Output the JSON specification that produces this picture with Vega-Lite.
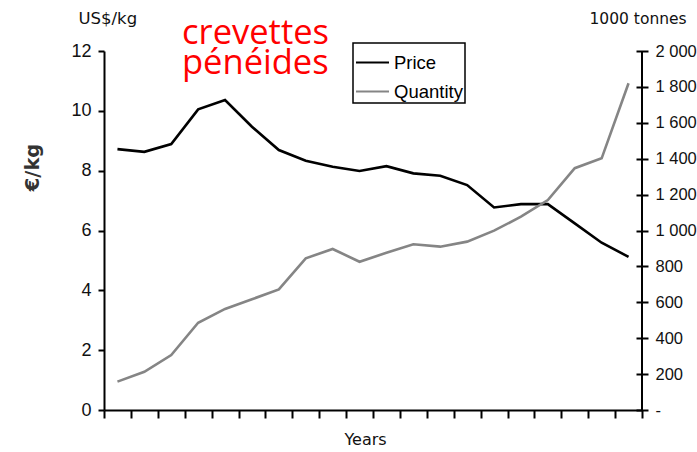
{
  "$schema": "https://vega.github.io/schema/vega-lite/v6.json",
  "width": 538,
  "height": 359,
  "autosize": "none",
  "padding": {"left": 104, "top": 51, "right": 55, "bottom": 42},
  "background": "white",
  "title": {
    "text": ["crevettes", "pénéides"],
    "anchor": "start",
    "frame": "group",
    "dx": 78,
    "dy": 75,
    "offset": 4,
    "color": "#ff0000",
    "font": "Open Sans",
    "fontSize": 34.5,
    "fontWeight": "normal",
    "lineHeight": 30
  },
  "data": {
    "values": [
      {"year": 1, "price": 8.72, "quantity": 158},
      {"year": 2, "price": 8.63, "quantity": 213},
      {"year": 3, "price": 8.89, "quantity": 306},
      {"year": 4, "price": 10.05, "quantity": 486},
      {"year": 5, "price": 10.36, "quantity": 563},
      {"year": 6, "price": 9.47, "quantity": 617},
      {"year": 7, "price": 8.69, "quantity": 672},
      {"year": 8, "price": 8.33, "quantity": 845},
      {"year": 9, "price": 8.13, "quantity": 897},
      {"year": 10, "price": 7.99, "quantity": 826},
      {"year": 11, "price": 8.15, "quantity": 876},
      {"year": 12, "price": 7.91, "quantity": 923},
      {"year": 13, "price": 7.83, "quantity": 910},
      {"year": 14, "price": 7.52, "quantity": 938},
      {"year": 15, "price": 6.77, "quantity": 999},
      {"year": 16, "price": 6.88, "quantity": 1077},
      {"year": 17, "price": 6.88, "quantity": 1170},
      {"year": 18, "price": 6.24, "quantity": 1347},
      {"year": 19, "price": 5.59, "quantity": 1402},
      {"year": 20, "price": 5.12, "quantity": 1820}
    ]
  },
  "config": {
    "view": {"stroke": null},
    "axis": {
      "grid": false,
      "domainColor": "black",
      "domainWidth": 2,
      "tickColor": "black",
      "tickWidth": 2,
      "labelFont": "Liberation Sans",
      "labelFontSize": 18,
      "labelColor": "#111",
      "titleColor": "#111"
    },
    "legend": {
      "strokeColor": "black",
      "strokeWidth": 1.5
    }
  },
  "encoding": {
    "x": {
      "field": "year",
      "type": "quantitative",
      "scale": {"domain": [0.5, 20.5], "nice": false, "zero": false},
      "axis": {
        "values": [0.5, 1.5, 2.5, 3.5, 4.5, 5.5, 6.5, 7.5, 8.5, 9.5, 10.5, 11.5, 12.5, 13.5, 14.5, 15.5, 16.5, 17.5, 18.5, 19.5, 20.5],
        "labels": false,
        "tickSize": 8,
        "title": "Years",
        "titleX": 261,
        "titleAlign": "center",
        "titleFont": "DejaVu Sans",
        "titleFontSize": 16,
        "titleFontWeight": "normal",
        "titlePadding": 12
      }
    }
  },
  "layer": [
    {
      "mark": {"type": "line", "strokeWidth": 2.6, "interpolate": "linear"},
      "encoding": {
        "y": {
          "field": "price",
          "type": "quantitative",
          "scale": {"domain": [0, 12], "nice": false},
          "axis": {
            "orient": "left",
            "values": [0, 2, 4, 6, 8, 10, 12],
            "tickSize": 6,
            "labelPadding": 7,
            "title": "US$/kg",
            "titleAngle": 0,
            "titleAlign": "left",
            "titleBaseline": "alphabetic",
            "titleX": -26,
            "titleY": -28,
            "titleFont": "DejaVu Sans",
            "titleFontSize": 16.5,
            "titleFontWeight": "normal"
          }
        },
        "color": {
          "datum": "Price",
          "type": "nominal",
          "scale": {"domain": ["Price", "Quantity"], "range": ["#000000", "#858585"]},
          "legend": {
            "title": null,
            "orient": "none",
            "legendX": 249,
            "legendY": -8,
            "symbolType": "stroke",
            "symbolSize": 1089,
            "symbolStrokeWidth": 2,
            "labelFont": "Liberation Sans",
            "labelFontSize": 18.5,
            "labelColor": "black",
            "labelOffset": 4,
            "padding": 2,
            "rowPadding": 2,
            "cornerRadius": 0
          }
        }
      }
    },
    {
      "mark": {"type": "line", "strokeWidth": 2.6, "interpolate": "linear"},
      "encoding": {
        "y": {
          "field": "quantity",
          "type": "quantitative",
          "scale": {"domain": [0, 2000], "nice": false},
          "axis": {
            "orient": "right",
            "values": [0, 200, 400, 600, 800, 1000, 1200, 1400, 1600, 1800, 2000],
            "labelExpr": "datum.value == 0 ? '-' : (datum.value >= 1000 ? replace(format(datum.value, ','), ',', ' ') : format(datum.value, 'd'))",
            "domain": false,
            "offset": -6,
            "tickSize": 12,
            "labelPadding": 7,
            "labelFontSize": 16.5,
            "title": "1000 tonnes",
            "titleAngle": 0,
            "titleAlign": "left",
            "titleBaseline": "alphabetic",
            "titleX": -47,
            "titleY": -28,
            "titleFont": "DejaVu Sans",
            "titleFontSize": 15.5,
            "titleFontWeight": "normal"
          }
        },
        "color": {"datum": "Quantity", "type": "nominal"}
      }
    },
    {
      "mark": {"type": "rule", "color": "black", "strokeWidth": 2},
      "encoding": {
        "x": {"datum": 20.5, "type": "quantitative"},
        "y": {
          "datum": 0,
          "type": "quantitative",
          "scale": {"domain": [0, 12], "nice": false},
          "axis": {
            "orient": "left",
            "domain": false,
            "ticks": false,
            "labels": false,
            "title": "€/kg",
            "titleAngle": 270,
            "titleAlign": "center",
            "titleBaseline": "middle",
            "titleX": -72,
            "titleY": 116,
            "titleFont": "DejaVu Sans",
            "titleFontSize": 19.5,
            "titleFontWeight": "bold",
            "titleColor": "#333"
          }
        },
        "y2": {"datum": 12}
      }
    }
  ],
  "resolve": {"scale": {"y": "independent"}, "axis": {"y": "independent"}}
}
